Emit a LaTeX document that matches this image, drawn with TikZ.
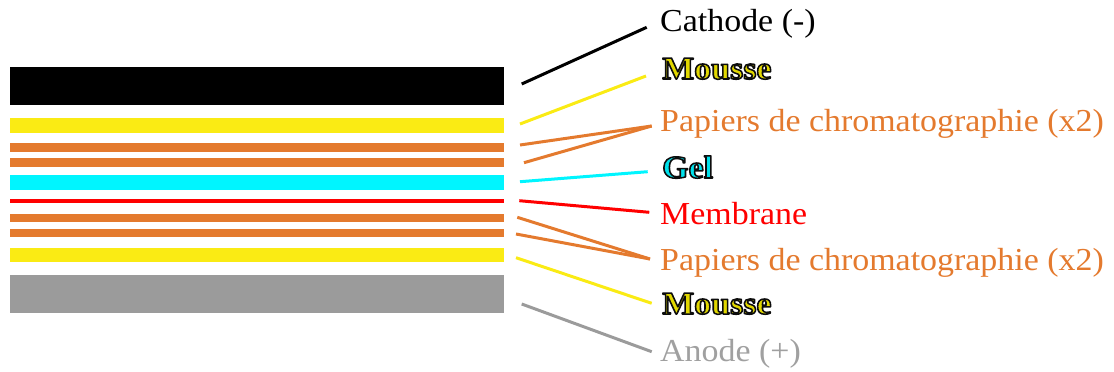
\documentclass[tikz,border=0pt]{standalone}
\usepackage{fontspec}
\setmainfont{Liberation Serif}
\definecolor{cblack}{RGB}{0,0,0}
\definecolor{cyel}{RGB}{250,235,20}
\definecolor{corange}{RGB}{228,122,46}
\definecolor{ccyan}{RGB}{0,245,255}
\definecolor{cred}{RGB}{255,0,0}
\definecolor{cgray}{RGB}{155,155,155}
\definecolor{tyel}{RGB}{225,215,0}
\definecolor{tcyan}{RGB}{0,225,235}
\definecolor{tgray}{RGB}{160,160,160}
\newcommand{\outltxt}[2]{{\color{#1}\bfseries\special{pdf:literal direct 2 Tr 1.5 w 1 j 0.05 0.05 0.05 RG}#2\special{pdf:literal direct 0 Tr}}}
\tikzset{
  layer/.style={draw=none, inner sep=0pt, minimum width=494.5pt, anchor=center},
  conn/.style={line width=3pt},
  lbl/.style={anchor=base west, inner sep=0pt, xscale=1.06, transform shape, font=\fontsize{32}{34}\selectfont},
}
\begin{document}
\begin{tikzpicture}[x=1pt,y=-1pt]
\useasboundingbox (0,0) rectangle (1114,372);
% layers
\node[layer, fill=cblack, minimum height=38.3pt] (k1) at (256.75,85.85) {};
\node[layer, fill=cyel, minimum height=14.7pt] (k2) at (256.75,125.35) {};
\node[layer, fill=corange, minimum height=8.4pt] (k3) at (256.75,147.5) {};
\node[layer, fill=corange, minimum height=8.4pt] (k4) at (256.75,162.5) {};
\node[layer, fill=ccyan, minimum height=14.7pt] (k5) at (256.75,182.65) {};
\node[layer, fill=cred, minimum height=4.6pt] (k6) at (256.75,201) {};
\node[layer, fill=corange, minimum height=8.6pt] (k7) at (256.75,218) {};
\node[layer, fill=corange, minimum height=8.6pt] (k8) at (256.75,233) {};
\node[layer, fill=cyel, minimum height=14.3pt] (k9) at (256.75,255.15) {};
\node[layer, fill=cgray, minimum height=38pt] (k10) at (256.75,294.3) {};
% labels
\node[lbl, text=black] (l1) at (660,31) {Cathode (-)};
\node[lbl] (l2) at (662,79) {\outltxt{tyel}{Mousse}};
\node[lbl, text=corange] (l3) at (660,131) {Papiers de chromatographie (x2)};
\node[lbl] (l4) at (662,178) {\outltxt{tcyan}{Gel}};
\node[lbl, text=cred] (l5) at (660,224) {Membrane};
\node[lbl, text=corange] (l6) at (660,270) {Papiers de chromatographie (x2)};
\node[lbl] (l7) at (662,314) {\outltxt{tyel}{Mousse}};
\node[lbl, text=tgray] (l8) at (660,361) {Anode (+)};
% connector ends
\coordinate (s1) at (521.7,84);   \coordinate (e1) at (646.7,27.3);
\coordinate (s2) at (520,124);    \coordinate (e2) at (646,76);
\coordinate (s3) at (520,145);    \coordinate (e3) at (651.7,126);
\coordinate (s4) at (524,162.7);
\coordinate (s5) at (520,181.7);  \coordinate (e5) at (647.7,171.7);
\coordinate (s6) at (519.3,200.7);\coordinate (e6) at (649.3,212.3);
\coordinate (s7) at (517.3,217.3);\coordinate (e7) at (650,259);
\coordinate (s8) at (516,234);
\coordinate (s9) at (516,257.7);  \coordinate (e9) at (651.7,303.3);
\coordinate (s10) at (521.7,304); \coordinate (e10) at (651.7,351.7);
% connectors
\draw[conn, draw=cblack] (s1) -- (e1);
\draw[conn, draw=cyel] (s2) -- (e2);
\draw[conn, draw=corange] (s3) -- (e3);
\draw[conn, draw=corange] (s4) -- (e3);
\draw[conn, draw=ccyan] (s5) -- (e5);
\draw[conn, draw=cred] (s6) -- (e6);
\draw[conn, draw=corange] (s7) -- (e7);
\draw[conn, draw=corange] (s8) -- (e7);
\draw[conn, draw=cyel] (s9) -- (e9);
\draw[conn, draw=cgray] (s10) -- (e10);
\end{tikzpicture}
\end{document}
